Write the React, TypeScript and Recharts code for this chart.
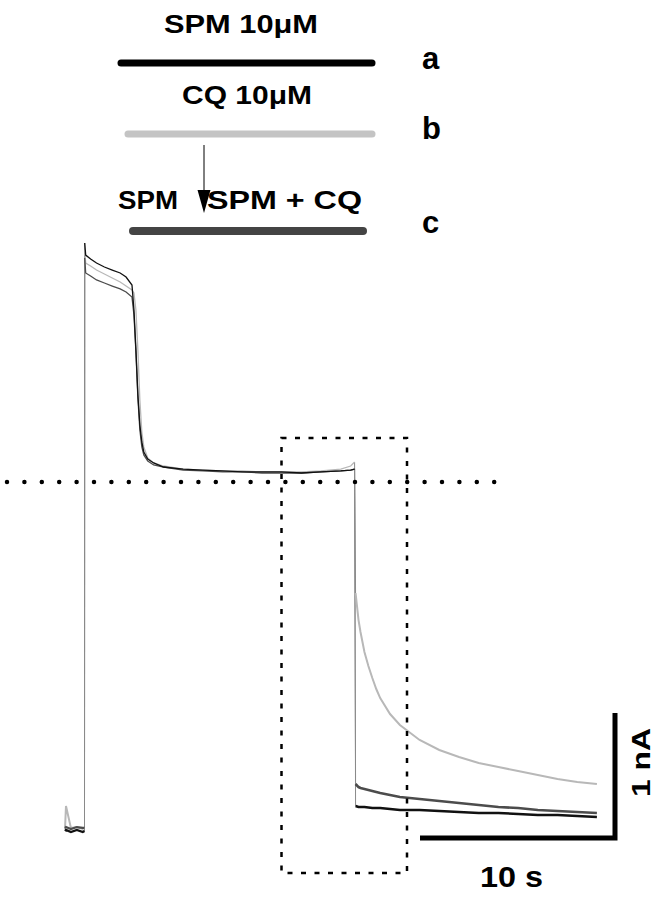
import React from "react";
import { LineChart, Line, XAxis, YAxis } from "recharts";

// time points in seconds (10 s scale bar)
const TIMES = [
  0, 0.05, 0.3, 0.6, 0.9, 0.99, 1.0, 1.05, 1.3, 1.6, 2.0, 2.4, 2.8, 3.1, 3.4,
  3.5, 3.6, 3.7, 3.8, 3.9, 4.0, 4.2, 4.5, 5, 6, 7, 8, 9, 10, 11, 12, 13, 14,
  14.5, 14.7, 14.75, 14.9, 15.0, 15.2, 15.4, 15.6, 15.8, 16, 16.5, 17, 18, 19,
  20, 21, 22, 23, 24, 25, 26, 27,
];

// step times (voltage steps)
const STEP_ON = 1.0;
const STEP_OFF = 14.75;

// trace a: SPM 10 uM (nA, relative to the dotted level)
const TRACE_A = [
  -2.748, -2.74, -2.756, -2.74, -2.756, -2.748, 1.882, 1.787, 1.756, 1.724,
  1.693, 1.669, 1.646, 1.614, 1.551, 1.354, 1.039, 0.685, 0.449, 0.315, 0.236,
  0.181, 0.15, 0.118, 0.102, 0.094, 0.087, 0.079, 0.079, 0.079, 0.071, 0.079,
  0.087, 0.094, 0.102, -2.551, -2.559, -2.559, -2.559, -2.563, -2.567, -2.567,
  -2.567, -2.575, -2.583, -2.583, -2.591, -2.598, -2.606, -2.606, -2.614,
  -2.622, -2.622, -2.63, -2.638,
];

// trace b: CQ 10 uM
const TRACE_B = [
  -2.732, -2.551, -2.724, -2.717, -2.732, -2.724, 1.827, 1.724, 1.701, 1.669,
  1.638, 1.606, 1.575, 1.543, 1.512, 1.488, 1.354, 1.039, 0.646, 0.394, 0.276,
  0.189, 0.15, 0.126, 0.102, 0.094, 0.087, 0.087, 0.079, 0.079, 0.079, 0.087,
  0.102, 0.126, 0.157, -0.874, -1.087, -1.181, -1.339, -1.449, -1.543, -1.63,
  -1.701, -1.827, -1.913, -2.031, -2.11, -2.165, -2.213, -2.244, -2.276,
  -2.307, -2.339, -2.362, -2.378,
];

// trace c: SPM then SPM + CQ
const TRACE_C = [
  -2.724, -2.717, -2.732, -2.717, -2.724, -2.724, 1.764, 1.646, 1.622, 1.591,
  1.567, 1.543, 1.52, 1.496, 1.457, 1.315, 1.024, 0.661, 0.409, 0.276, 0.213,
  0.165, 0.134, 0.118, 0.094, 0.087, 0.079, 0.079, 0.071, 0.071, 0.071, 0.079,
  0.087, 0.094, 0.102, -2.378, -2.402, -2.409, -2.417, -2.425, -2.433, -2.441,
  -2.449, -2.465, -2.48, -2.496, -2.512, -2.528, -2.543, -2.559, -2.567,
  -2.583, -2.591, -2.598, -2.606,
];

const TRACES = { a: TRACE_A, b: TRACE_B, c: TRACE_C };

// split each trace into baseline / step / tail pieces plus the two fast jumps,
// so the noisy tails can be drawn heavier than the thin capacitive jumps
const data = TIMES.map((t, i) => {
  const row: Record<string, number | null> = { t };
  const iOn = TIMES.indexOf(STEP_ON);
  const iOff = TIMES.indexOf(STEP_OFF);
  for (const [k, arr] of Object.entries(TRACES)) {
    const v = arr[i];
    row[k + "_pre"] = i < iOn ? v : null;
    row[k + "_mid"] = i >= iOn && i < iOff ? v : null;
    row[k + "_post"] = i >= iOff ? v : null;
    row[k + "_j"] = i === iOn - 1 || i === iOn || i === iOff - 1 || i === iOff ? v : null;
  }
  return row;
});

const W = 664;
const H = 898;
const font = "'Liberation Sans', Arial, Helvetica, sans-serif";

const STYLE = {
  b: { color: "#b8b8b8", pre: 2, mid: 1.3, post: 2 },
  c: { color: "#4c4c4c", pre: 2.2, mid: 1.3, post: 2.6 },
  a: { color: "#111", pre: 2.4, mid: 1.3, post: 2.6 },
};

export default function App() {
  return (
    <div
      style={{
        position: "absolute",
        left: 0,
        top: 0,
        width: W,
        height: H,
        background: "#fff",
      }}
    >
      <LineChart
        width={W}
        height={H}
        data={data}
        margin={{ top: 0, right: 0, bottom: 0, left: 0 }}
      >
        <XAxis
          dataKey="t"
          type="number"
          domain={[-3.2995, 30.406]}
          hide
          allowDataOverflow
        />
        <YAxis
          type="number"
          domain={[-3.2756, 3.7953]}
          hide
          allowDataOverflow
          width={0}
        />
        {(["b", "c", "a"] as const).map((k) => (
          <Line
            key={k + "_j"}
            dataKey={k + "_j"}
            stroke="#8a8a8a"
            strokeWidth={1}
            dot={false}
            activeDot={false}
            connectNulls={false}
            isAnimationActive={false}
          />
        ))}
        {(["b", "c", "a"] as const).map((k) =>
          (["pre", "mid", "post"] as const).map((p) => (
            <Line
              key={k + "_" + p}
              dataKey={k + "_" + p}
              stroke={STYLE[k].color}
              strokeWidth={STYLE[k][p]}
              dot={false}
              activeDot={false}
              isAnimationActive={false}
            />
          ))
        )}
      </LineChart>

      {/* annotations: drug bars, zero level, scale bars */}
      <svg
        width={W}
        height={H}
        style={{ position: "absolute", left: 0, top: 0, pointerEvents: "none" }}
        fontFamily={font}
        fontWeight="bold"
      >
        <text x={164} y={33} fontSize={25} textLength={154} lengthAdjust="spacingAndGlyphs">
          SPM 10μM
        </text>
        <line x1={121} y1={63} x2={372} y2={63} stroke="#000" strokeWidth={7} strokeLinecap="round" />
        <text x={422} y={69} fontSize={31}>a</text>

        <text x={182} y={104} fontSize={25} textLength={130} lengthAdjust="spacingAndGlyphs">
          CQ 10μM
        </text>
        <line x1={128} y1={134} x2={372} y2={134} stroke="#c4c4c4" strokeWidth={7} strokeLinecap="round" />
        <text x={422} y={139} fontSize={31}>b</text>

        <line x1={204} y1={145} x2={204} y2={192} stroke="#000" strokeWidth={1} />
        <polygon points="197.5,190 210.5,190 204,213" fill="#000" />
        <text x={118} y={209} fontSize={25} textLength={60} lengthAdjust="spacingAndGlyphs">
          SPM
        </text>
        <text x={207} y={209} fontSize={25} textLength={155} lengthAdjust="spacingAndGlyphs">
          SPM + CQ
        </text>
        <line x1={133} y1={231} x2={363} y2={231} stroke="#444" strokeWidth={8} strokeLinecap="round" />
        <text x={422} y={233} fontSize={31}>c</text>

        <line
          x1={7}
          y1={482}
          x2={495}
          y2={482}
          stroke="#000"
          strokeWidth={4.5}
          strokeDasharray="0 17.4"
          strokeLinecap="round"
        />
        <rect
          x={281.5}
          y={438}
          width={125.5}
          height={435}
          fill="none"
          stroke="#000"
          strokeWidth={2.5}
          strokeDasharray="5 8.5"
        />

        <polyline
          points="615,713 615,838 420,838"
          fill="none"
          stroke="#000"
          strokeWidth={5}
        />
        <text x={480} y={887} fontSize={30} textLength={63} lengthAdjust="spacingAndGlyphs">
          10 s
        </text>
        <text
          transform="translate(650,797) rotate(-90)"
          fontSize={25}
          textLength={69}
          lengthAdjust="spacingAndGlyphs"
        >
          1 nA
        </text>
      </svg>
    </div>
  );
}
